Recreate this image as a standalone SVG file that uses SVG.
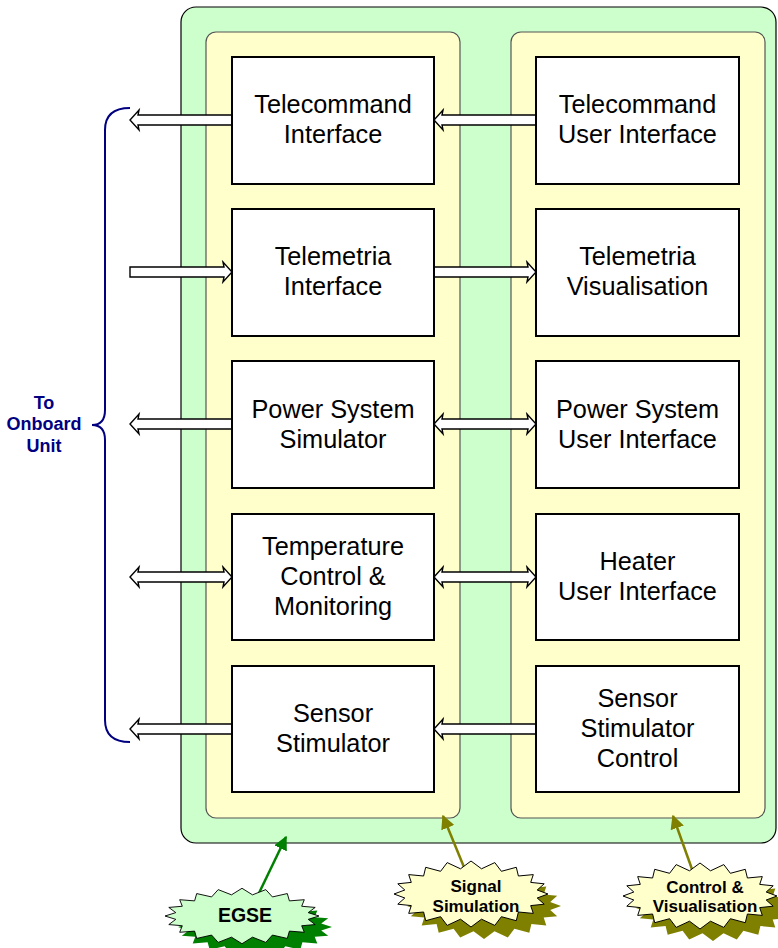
<svg xmlns="http://www.w3.org/2000/svg" xmlns:xlink="http://www.w3.org/1999/xlink" width="778" height="948" viewBox="0 0 778 948">
  <style>
    .box { fill: #ffffff; stroke: #000000; stroke-width: 2; }
    .panel { fill: #ffffcc; stroke: #555555; stroke-width: 1.2; }
    .frame { fill: #ccffcc; stroke: #000000; stroke-width: 1.2; }
    .lbl { font-family: "Liberation Sans", Arial, sans-serif; font-size: 25.3px; fill: #000000; text-anchor: middle; }
    .burst-lbl { font-family: "Liberation Sans", Arial, sans-serif; font-weight: bold; fill: #000000; text-anchor: middle; }
    .side { font-family: "Liberation Sans", Arial, sans-serif; font-weight: bold; font-size: 18px; fill: #000080; text-anchor: middle; }
    .hollow { fill: #ffffff; stroke: #000000; stroke-width: 1.4; stroke-linejoin: miter; }
  </style>
  <defs>
    <!-- jagged starburst outline, centred on the origin -->
    <polygon id="burst" points="77,0 66.2,4 73.2,10.2 59.7,11.6 62.3,19.4 47.4,18 45.3,26.7 30.4,22.7 23.8,31.4 10.5,25.2 0,33 -10.5,25.2 -23.8,31.4 -30.4,22.7 -45.3,26.7 -47.4,18 -62.3,19.4 -59.7,11.6 -73.2,10.2 -66.2,4 -77,0 -66.2,-4 -73.2,-10.2 -59.7,-11.6 -62.3,-19.4 -47.4,-18 -45.3,-26.7 -30.4,-22.7 -23.8,-31.4 -10.5,-25.2 0,-33 10.5,-25.2 23.8,-31.4 30.4,-22.7 45.3,-26.7 47.4,-18 62.3,-19.4 59.7,-11.6 73.2,-10.2 66.2,-4"/>
    <marker id="headGreen" viewBox="0 0 10 10" refX="9" refY="5" markerWidth="14" markerHeight="14" markerUnits="userSpaceOnUse" orient="auto">
      <path d="M0,0 L10,5 L0,10 z" fill="#008000"/>
    </marker>
    <marker id="headOlive" viewBox="0 0 10 10" refX="9" refY="5" markerWidth="14" markerHeight="14" markerUnits="userSpaceOnUse" orient="auto">
      <path d="M0,0 L10,5 L0,10 z" fill="#808000"/>
    </marker>
  </defs>

  <!-- outer equipment frame and the two panels -->
  <g id="egse-frame">
    <rect class="frame" x="181" y="7" width="595" height="836" rx="15" ry="15"/>
  </g>
  <g id="panel-signal">
    <rect class="panel" x="206" y="32" width="254" height="786" rx="10" ry="10"/>
  </g>
  <g id="panel-control">
    <rect class="panel" x="511" y="32" width="254" height="786" rx="10" ry="10"/>
  </g>

  <!-- connectors -->
  <g id="connectors">
    <!-- row 1: left-pointing -->
    <path class="hollow" d="M232,115 L138,115 L139,110 L130,120 L139,130 L138,125 L232,125 Z"/>
    <path class="hollow" d="M536,115 L442,115 L443,110 L434,120 L443,130 L442,125 L536,125 Z"/>
    <!-- row 2: right-pointing -->
    <path class="hollow" d="M130,267 L224,267 L223,262 L232,272 L223,282 L224,277 L130,277 Z"/>
    <path class="hollow" d="M434,267 L528,267 L527,262 L536,272 L527,282 L528,277 L434,277 Z"/>
    <!-- row 3 -->
    <path class="hollow" d="M232,419 L138,419 L139,414 L130,424 L139,434 L138,429 L232,429 Z"/>
    <path class="hollow" d="M442,419 L528,419 L527,414 L536,424 L527,434 L528,429 L442,429 L443,434 L434,424 L443,414 Z"/>
    <!-- row 4: both directions -->
    <path class="hollow" d="M138,572 L224,572 L223,567 L232,577 L223,587 L224,582 L138,582 L139,587 L130,577 L139,567 Z"/>
    <path class="hollow" d="M442,572 L528,572 L527,567 L536,577 L527,587 L528,582 L442,582 L443,587 L434,577 L443,567 Z"/>
    <!-- row 5: left-pointing -->
    <path class="hollow" d="M232,724 L138,724 L139,719 L130,729 L139,739 L138,734 L232,734 Z"/>
    <path class="hollow" d="M536,724 L442,724 L443,719 L434,729 L443,739 L442,734 L536,734 Z"/>
    <!-- brace grouping the onboard links -->
    <path d="M130,108 Q105,108 105,130 L105,410 Q105,425 92,425 Q105,425 105,440 L105,720 Q105,742 130,742" fill="none" stroke="#000080" stroke-width="2"/>
    <!-- callout pointers -->
    <line x1="259" y1="893" x2="286" y2="837" stroke="#008000" stroke-width="2.5" marker-end="url(#headGreen)"/>
    <line x1="466" y1="872" x2="443" y2="816" stroke="#808000" stroke-width="2.5" marker-end="url(#headOlive)"/>
    <line x1="693" y1="872" x2="673" y2="816" stroke="#808000" stroke-width="2.5" marker-end="url(#headOlive)"/>
  </g>

  <!-- signal simulation column -->
  <g id="telecommand-interface">
    <rect class="box" x="232" y="57" width="202" height="127"/>
    <text class="lbl" x="333" y="113">Telecommand</text>
    <text class="lbl" x="333" y="143">Interface</text>
  </g>
  <g id="telemetria-interface">
    <rect class="box" x="232" y="209" width="202" height="127"/>
    <text class="lbl" x="333" y="265">Telemetria</text>
    <text class="lbl" x="333" y="295">Interface</text>
  </g>
  <g id="power-system-simulator">
    <rect class="box" x="232" y="361" width="202" height="127"/>
    <text class="lbl" x="333" y="418">Power System</text>
    <text class="lbl" x="333" y="448">Simulator</text>
  </g>
  <g id="temperature-control">
    <rect class="box" x="232" y="514" width="202" height="126"/>
    <text class="lbl" x="333" y="555">Temperature</text>
    <text class="lbl" x="333" y="585">Control &amp;</text>
    <text class="lbl" x="333" y="615">Monitoring</text>
  </g>
  <g id="sensor-stimulator">
    <rect class="box" x="232" y="666" width="202" height="126"/>
    <text class="lbl" x="333" y="722">Sensor</text>
    <text class="lbl" x="333" y="752">Stimulator</text>
  </g>

  <!-- control and visualisation column -->
  <g id="telecommand-ui">
    <rect class="box" x="536" y="57" width="203" height="127"/>
    <text class="lbl" x="637.5" y="113">Telecommand</text>
    <text class="lbl" x="637.5" y="143">User Interface</text>
  </g>
  <g id="telemetria-visualisation">
    <rect class="box" x="536" y="209" width="203" height="127"/>
    <text class="lbl" x="637.5" y="265">Telemetria</text>
    <text class="lbl" x="637.5" y="295">Visualisation</text>
  </g>
  <g id="power-system-ui">
    <rect class="box" x="536" y="361" width="203" height="127"/>
    <text class="lbl" x="637.5" y="418">Power System</text>
    <text class="lbl" x="637.5" y="448">User Interface</text>
  </g>
  <g id="heater-ui">
    <rect class="box" x="536" y="514" width="203" height="126"/>
    <text class="lbl" x="637.5" y="570">Heater</text>
    <text class="lbl" x="637.5" y="600">User Interface</text>
  </g>
  <g id="sensor-stimulator-control">
    <rect class="box" x="536" y="666" width="203" height="126"/>
    <text class="lbl" x="637.5" y="707">Sensor</text>
    <text class="lbl" x="637.5" y="737">Stimulator</text>
    <text class="lbl" x="637.5" y="767">Control</text>
  </g>

  <!-- side label -->
  <g id="onboard-unit">
    <text class="side" x="44" y="409">To</text>
    <text class="side" x="44" y="430">Onboard</text>
    <text class="side" x="44" y="452">Unit</text>
  </g>

  <!-- callout bursts -->
  <g id="burst-egse">
    <use xlink:href="#burst" transform="translate(255,927) scale(1,0.85)" fill="#008000"/>
    <use xlink:href="#burst" transform="translate(242,916) scale(1,0.84)" fill="#ccffcc" stroke="#000000" stroke-width="1"/>
    <text class="burst-lbl" x="245" y="922" font-size="19.5">EGSE</text>
  </g>
  <g id="burst-signal">
    <use xlink:href="#burst" transform="translate(484,906)" fill="#808000"/>
    <use xlink:href="#burst" transform="translate(471,894)" fill="#ffffcc" stroke="#000000" stroke-width="1"/>
    <text class="burst-lbl" x="476" y="892" font-size="17">Signal</text>
    <text class="burst-lbl" x="476" y="912" font-size="17">Simulation</text>
  </g>
  <g id="burst-control">
    <use xlink:href="#burst" transform="translate(713,908)" fill="#808000"/>
    <use xlink:href="#burst" transform="translate(700,896)" fill="#ffffcc" stroke="#000000" stroke-width="1"/>
    <text class="burst-lbl" x="705" y="893" font-size="17">Control &amp;</text>
    <text class="burst-lbl" x="705" y="912" font-size="17">Visualisation</text>
  </g>
</svg>
